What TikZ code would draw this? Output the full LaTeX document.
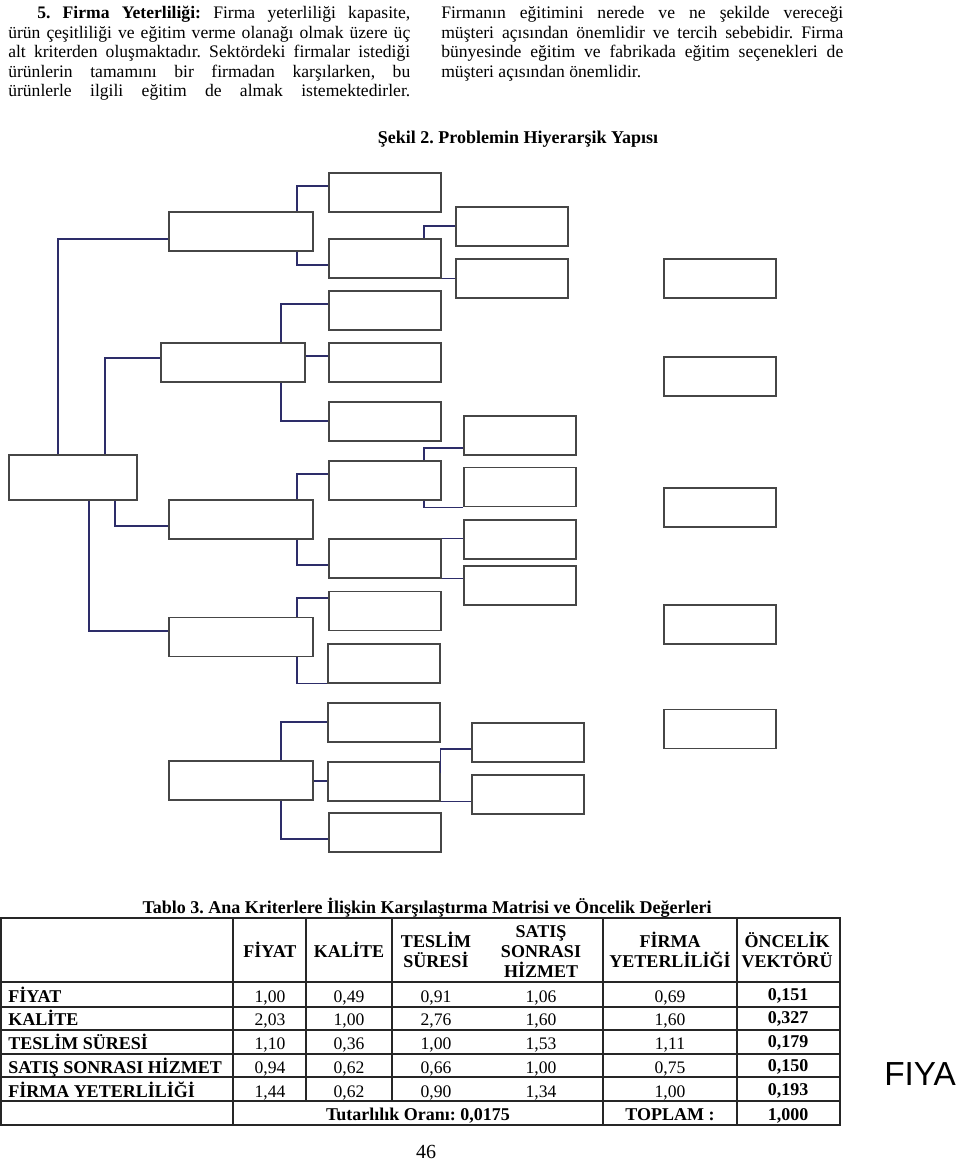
\documentclass[tikz,border=0pt]{standalone}
\usepackage{fontspec}
\setmainfont{Liberation Serif}
\newfontfamily\fiyafont{Liberation Sans}
\frenchspacing
\definecolor{boxgray}{RGB}{70,70,70}
\definecolor{linkblue}{RGB}{45,45,105}
\tikzset{
  box/.style={draw=boxgray, line width=1.1pt, inner sep=0pt, minimum width=84pt, minimum height=29.25pt},
  wbox/.style={box, minimum width=108pt},
  rbox/.style={box, minimum width=96pt, minimum height=33.75pt},
  link/.style={draw=linkblue, line width=0.9pt},
  rule/.style={draw=black!85, line width=1pt},
  txt/.style={inner sep=0pt, font=\fontsize{13.2pt}{15pt}\selectfont},
  btxt/.style={inner sep=0pt, font=\fontsize{13.5pt}{15pt}\selectfont\bfseries}
}
\begin{document}
\begin{tikzpicture}[x=0.75pt,y=-0.75pt]
\path[use as bounding box,fill=white] (0,0) rectangle (960,1163);

\node[txt,anchor=base west] (p1) at (37,19) {\makebox[279.75pt][s]{\textbf{5. Firma Yeterliliği:} Firma yeterliliği kapasite,}};
\node[txt,anchor=base west] (p2) at (8,38.5) {\makebox[301.5pt][s]{ürün çeşitliliği ve eğitim verme olanağı olmak üzere üç}};
\node[txt,anchor=base west] (p3) at (8,58) {\makebox[301.5pt][s]{alt kriterden oluşmaktadır. Sektördeki firmalar istediği}};
\node[txt,anchor=base west] (p4) at (8,77.5) {\makebox[301.5pt][s]{ürünlerin tamamını bir firmadan karşılarken, bu}};
\node[txt,anchor=base west] (p5) at (8,97) {\makebox[301.5pt][s]{ürünlerle ilgili eğitim de almak istemektedirler.}};
\node[txt,anchor=base west] (q1) at (441,19) {\makebox[301.5pt][s]{Firmanın eğitimini nerede ve ne şekilde vereceği}};
\node[txt,anchor=base west] (q2) at (441,38.5) {\makebox[301.5pt][s]{müşteri açısından önemlidir ve tercih sebebidir. Firma}};
\node[txt,anchor=base west] (q3) at (441,58) {\makebox[301.5pt][s]{bünyesinde eğitim ve fabrikada eğitim seçenekleri de}};
\node[txt,anchor=base west] (q4) at (441,77.5) {müşteri açısından önemlidir.};
\node[btxt,anchor=base] (sekil) at (518,143) {Şekil 2. Problemin Hiyerarşik Yapısı};

\node[rbox] (1) at (73,477.5) {};
\node[wbox] (2) at (241,231.5) {};
\node[wbox] (3) at (233,362.5) {};
\node[wbox] (4) at (241,519.5) {};
\node[wbox] (5) at (241,637) {};
\node[wbox] (6) at (241,780.5) {};
\node[box] (7) at (385,192.5) {};
\node[box] (8) at (385,258.5) {};
\node[box] (9) at (385,310.5) {};
\node[box] (10) at (385,362.5) {};
\node[box] (11) at (385,421.5) {};
\node[box] (12) at (385,480.5) {};
\node[box] (13) at (385,558.5) {};
\node[box] (14) at (385,611) {};
\node[box] (15) at (384,663.5) {};
\node[box] (16) at (384,722.5) {};
\node[box] (17) at (384,781.5) {};
\node[box] (18) at (385,832.5) {};
\node[box] (19) at (512,226.5) {};
\node[box] (20) at (512,278.5) {};
\node[box] (21) at (520,435.5) {};
\node[box] (22) at (520,487) {};
\node[box] (23) at (520,539.5) {};
\node[box] (24) at (520,585.5) {};
\node[box] (25) at (528,742.5) {};
\node[box] (26) at (528,794.5) {};
\node[box] (27) at (720,278.5) {};
\node[box] (28) at (720,376.5) {};
\node[box] (29) at (720,507.5) {};
\node[box] (30) at (720,624.5) {};
\node[box] (31) at (720,729) {};

\path[draw,link] (1.north -| 58,0) |- (2.west |- 0,239);
\path[draw,link] (1.north -| 105,0) |- (3.west |- 0,358);
\path[draw,link] (1.south -| 115,0) |- (4.west |- 0,526);
\path[draw,link] (1.south -| 89,0) |- (5.west |- 0,631);
\path[draw,link] (2.north -| 297,0) |- (7.west |- 0,186);
\path[draw,link] (2.south -| 297,0) |- (8.west |- 0,265);
\path[draw,link] (8.north -| 424,0) |- (19.west |- 0,226);
\path[draw,link] (8.south east) -- (8.south east -| 20.west);
\path[draw,link] (3.north -| 281,0) |- (9.west |- 0,304);
\path[draw,link] (3.east |- 0,356) -- (10.west |- 0,356);
\path[draw,link] (3.south -| 281,0) |- (11.west |- 0,421);
\path[draw,link] (4.north -| 297,0) |- (12.west |- 0,474);
\path[draw,link] (4.south -| 297,0) |- (13.west |- 0,565);
\path[draw,link] (12.north -| 424,0) |- (21.west |- 0,448);
\path[draw,link] (12.south -| 424,0) |- (22.south west);
\path[draw,link] (13.north east) -- (13.north east -| 23.west);
\path[draw,link] (13.south east) -- (13.south east -| 24.west);
\path[draw,link] (5.north -| 297,0) |- (14.west |- 0,598);
\path[draw,link] (5.south -| 297,0) |- (15.south west);
\path[draw,link] (6.north -| 281,0) |- (16.west |- 0,722);
\path[draw,link] (6.east |- 0,781) -- (17.west |- 0,781);
\path[draw,link] (6.south -| 281,0) |- (18.west |- 0,839);
\path[draw,link] (17.east |- 0,773) |- (25.west |- 0,749);
\path[draw,link] (17.south east) -- (17.south east -| 26.west);

\node[btxt,anchor=base] (tablo) at (427,913) {Tablo 3. Ana Kriterlere İlişkin Karşılaştırma Matrisi ve Öncelik Değerleri};
\draw[rule] (1,918) rectangle (840,1125);
\draw[rule] (1,982) -- (840,982);
\draw[rule] (1,1007) -- (840,1007);
\draw[rule] (1,1030) -- (840,1030);
\draw[rule] (1,1054) -- (840,1054);
\draw[rule] (1,1077) -- (840,1077);
\draw[rule] (1,1101) -- (840,1101);
\draw[rule] (233,918) -- (233,1125);
\draw[rule] (306,918) -- (306,1101);
\draw[rule] (392,918) -- (392,1101);
\draw[rule] (603,918) -- (603,1125);
\draw[rule] (737,918) -- (737,1125);

\node[btxt,anchor=base] (h1) at (270,957) {FİYAT};
\node[btxt,anchor=base] (h2) at (349,957) {KALİTE};
\node[btxt,anchor=base] (h3a) at (436,947) {TESLİM};
\node[btxt,anchor=base] (h3b) at (436,967) {SÜRESİ};
\node[btxt,anchor=base] (h4a) at (541,937) {SATIŞ};
\node[btxt,anchor=base] (h4b) at (541,957) {SONRASI};
\node[btxt,anchor=base] (h4c) at (541,977) {HİZMET};
\node[btxt,anchor=base] (h5a) at (670,947) {FİRMA};
\node[btxt,anchor=base] (h5b) at (670,967) {YETERLİLİĞİ};
\node[btxt,anchor=base] (h6a) at (787,947) {ÖNCELİK};
\node[btxt,anchor=base] (h6b) at (787,967) {VEKTÖRÜ};

\node[btxt,anchor=base west] (r1) at (8,1002) {FİYAT};
\node[txt,anchor=base] (r1a) at (270,1002) {1,00};
\node[txt,anchor=base] (r1b) at (349,1002) {0,49};
\node[txt,anchor=base] (r1c) at (436,1002) {0,91};
\node[txt,anchor=base] (r1d) at (541,1002) {1,06};
\node[txt,anchor=base] (r1e) at (670,1002) {0,69};
\node[btxt,anchor=base] (r1f) at (788,1000) {0,151};
\node[btxt,anchor=base west] (r2) at (8,1025) {KALİTE};
\node[txt,anchor=base] (r2a) at (270,1025) {2,03};
\node[txt,anchor=base] (r2b) at (349,1025) {1,00};
\node[txt,anchor=base] (r2c) at (436,1025) {2,76};
\node[txt,anchor=base] (r2d) at (541,1025) {1,60};
\node[txt,anchor=base] (r2e) at (670,1025) {1,60};
\node[btxt,anchor=base] (r2f) at (788,1023) {0,327};
\node[btxt,anchor=base west] (r3) at (8,1049) {TESLİM SÜRESİ};
\node[txt,anchor=base] (r3a) at (270,1049) {1,10};
\node[txt,anchor=base] (r3b) at (349,1049) {0,36};
\node[txt,anchor=base] (r3c) at (436,1049) {1,00};
\node[txt,anchor=base] (r3d) at (541,1049) {1,53};
\node[txt,anchor=base] (r3e) at (670,1049) {1,11};
\node[btxt,anchor=base] (r3f) at (788,1047) {0,179};
\node[btxt,anchor=base west] (r4) at (8,1073) {SATIŞ SONRASI HİZMET};
\node[txt,anchor=base] (r4a) at (270,1073) {0,94};
\node[txt,anchor=base] (r4b) at (349,1073) {0,62};
\node[txt,anchor=base] (r4c) at (436,1073) {0,66};
\node[txt,anchor=base] (r4d) at (541,1073) {1,00};
\node[txt,anchor=base] (r4e) at (670,1073) {0,75};
\node[btxt,anchor=base] (r4f) at (788,1071) {0,150};
\node[btxt,anchor=base west] (r5) at (8,1097) {FİRMA YETERLİLİĞİ};
\node[txt,anchor=base] (r5a) at (270,1097) {1,44};
\node[txt,anchor=base] (r5b) at (349,1097) {0,62};
\node[txt,anchor=base] (r5c) at (436,1097) {0,90};
\node[txt,anchor=base] (r5d) at (541,1097) {1,34};
\node[txt,anchor=base] (r5e) at (670,1097) {1,00};
\node[btxt,anchor=base] (r5f) at (788,1095) {0,193};
\node[btxt,anchor=base] (tut) at (418,1120) {Tutarlılık Oranı: 0,0175};
\node[btxt,anchor=base] (top) at (670,1120) {TOPLAM :};
\node[btxt,anchor=base] (tot) at (788,1120) {1,000};

\node[txt,anchor=base,font=\fontsize{15pt}{17pt}\selectfont] (page) at (426,1158) {46};
\node[anchor=base west,inner sep=0pt,font=\fiyafont\fontsize{25pt}{27pt}\selectfont] (fiya) at (884,1085) {FIYA};
\end{tikzpicture}
\end{document}
